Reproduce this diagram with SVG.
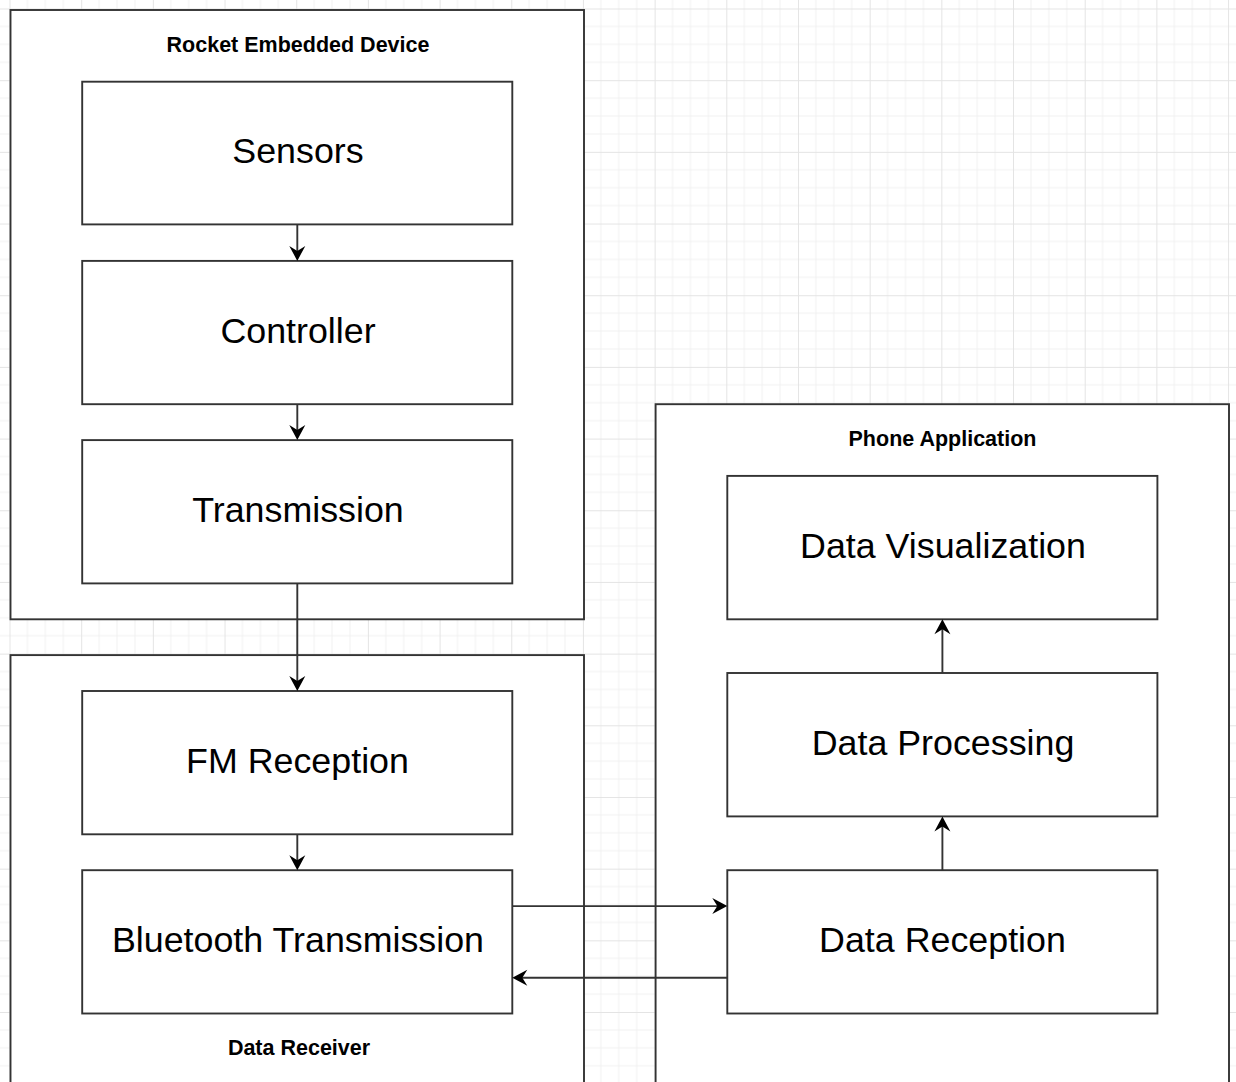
<svg xmlns="http://www.w3.org/2000/svg" width="1236" height="1082" viewBox="0 0 1236 1082">
<style>
.box{fill:#fff;stroke:#333;stroke-width:1.9}
.node{font-family:"Liberation Sans",Arial,sans-serif;font-size:35.8px;fill:#000;text-anchor:middle}
.title{font-family:"Liberation Sans",Arial,sans-serif;font-size:21.5px;font-weight:bold;fill:#000;text-anchor:middle}
.edge{fill:none;stroke:#333;stroke-width:1.9}
</style>
<defs>
<pattern id="grid" patternUnits="userSpaceOnUse" x="9.5" y="8.5" width="71.68" height="71.68">
<path d="M17.92,0V71.68M35.84,0V71.68M53.76,0V71.68M0,17.92H71.68M0,35.84H71.68M0,53.76H71.68" stroke="#f1f1f1" stroke-width="1" fill="none"/>
<path d="M0.5,0V71.68M0,0.5H71.68" stroke="#e4e4e4" stroke-width="1" fill="none"/>
</pattern>
<marker id="arr" viewBox="-16 -9 17 18" markerWidth="17" markerHeight="18" refX="-9" refY="0" markerUnits="userSpaceOnUse" orient="auto">
<path d="M0,0L-15,-8L-10,0L-15,8Z" fill="#000"/>
</marker>
</defs>
<rect width="1236" height="1082" fill="#fff"/>
<rect width="1236" height="1082" fill="url(#grid)"/>

<g id="rocket-embedded-device">
<rect class="box" x="10.5" y="10" width="573.5" height="609.3"/>
<text class="title" x="298" y="51.5">Rocket Embedded Device</text>
</g>
<g id="data-receiver">
<rect class="box" x="10.5" y="655.1" width="573.5" height="440"/>
<text class="title" x="299" y="1055">Data Receiver</text>
</g>
<g id="phone-application">
<rect class="box" x="655.6" y="404.2" width="573.4" height="690"/>
<text class="title" x="942.5" y="445.5">Phone Application</text>
</g>

<g id="sensors">
<rect class="box" x="82.2" y="81.7" width="430.1" height="142.7"/>
<text class="node" x="298" y="163">Sensors</text>
</g>
<g id="controller">
<rect class="box" x="82.2" y="260.9" width="430.1" height="143.3"/>
<text class="node" x="298" y="342.5">Controller</text>
</g>
<g id="transmission">
<rect class="box" x="82.2" y="440.1" width="430.1" height="143.3"/>
<text class="node" x="298" y="521.7">Transmission</text>
</g>
<g id="fm-reception">
<rect class="box" x="82.2" y="691" width="430.1" height="143.3"/>
<text class="node" x="297.5" y="772.6">FM Reception</text>
</g>
<g id="bluetooth-transmission">
<rect class="box" x="82.2" y="870.2" width="430.1" height="143.3"/>
<text class="node" x="298" y="951.8">Bluetooth Transmission</text>
</g>
<g id="data-visualization">
<rect class="box" x="727.3" y="475.9" width="430.1" height="143.4"/>
<text class="node" x="943" y="557.6">Data Visualization</text>
</g>
<g id="data-processing">
<rect class="box" x="727.3" y="673" width="430.1" height="143.4"/>
<text class="node" x="943" y="754.7">Data Processing</text>
</g>
<g id="data-reception">
<rect class="box" x="727.3" y="870.2" width="430.1" height="143.3"/>
<text class="node" x="942.5" y="951.8">Data Reception</text>
</g>

<g id="connectors">
<path class="edge" d="M297.3,224.4V251.9" marker-end="url(#arr)"/>
<path class="edge" d="M297.3,404.2V431.1" marker-end="url(#arr)"/>
<path class="edge" d="M297.3,583.4V682" marker-end="url(#arr)"/>
<path class="edge" d="M297.3,834.3V861.2" marker-end="url(#arr)"/>
<path class="edge" d="M942.4,870.2V825.4" marker-end="url(#arr)"/>
<path class="edge" d="M942.4,673V628.3" marker-end="url(#arr)"/>
<path class="edge" d="M512.3,906.1H718.3" marker-end="url(#arr)"/>
<path class="edge" d="M727.3,977.7H521.3" marker-end="url(#arr)"/>
</g>
</svg>
